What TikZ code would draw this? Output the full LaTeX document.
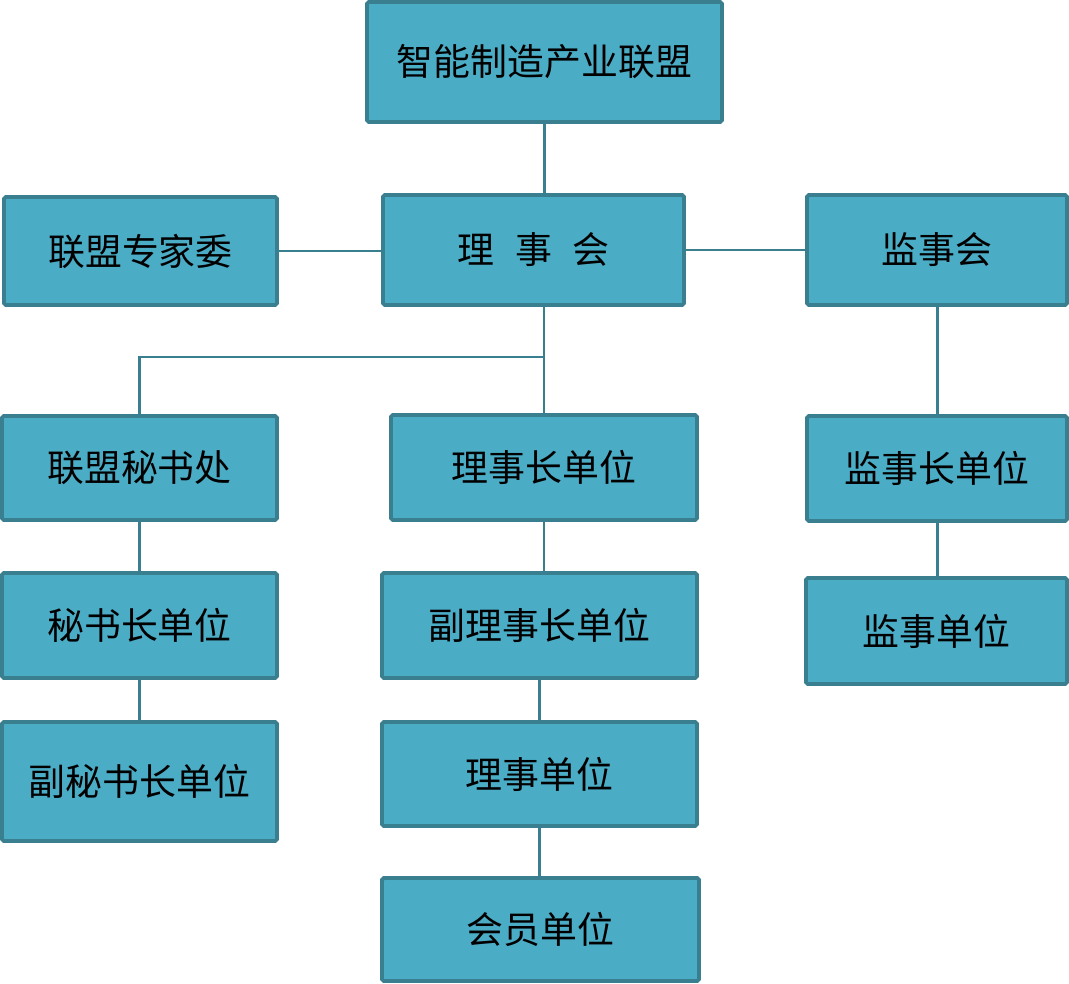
\documentclass[tikz,border=0pt]{standalone}
\usepackage{fontspec}
\newfontfamily\cjk{Noto Sans CJK SC}
\usetikzlibrary{positioning,calc}
\definecolor{BoxFill}{HTML}{4BACC6}
\definecolor{BoxLine}{HTML}{3A7F90}
\tikzset{
  unit/.style={draw=BoxLine,fill=BoxFill,line width=2.2pt,rounded corners=1pt,
    inner sep=0pt,font=\cjk\fontsize{21}{25}\selectfont},
  link/.style={draw=BoxLine,line width=1.7pt}
}
\begin{document}
\begin{tikzpicture}[x=0.02cm,y=-0.02cm]
      \useasboundingbox (0,0) rectangle (1069,984);
      % boxes: name/x/y/width/height/text
      \foreach \nm/\x/\y/\w/\h/\txt in {
        lm/544.5/62/355/120/智能制造产业联盟,
        zjw/140.5/251/273/108/联盟专家委,
        lsh/533.5/250/301/110/理\hspace{0.55em}事\hspace{0.55em}会,
        jsh/937/250/260/110/监事会,
        msc/139.5/468/275/104/联盟秘书处,
        lszdw/544/467.5/306/105/理事长单位,
        jszdw/937/468.5/260/105/监事长单位,
        mszdw/139.5/625.5/275/105/秘书长单位,
        flszdw/539.5/625.5/315/105/副理事长单位,
        jsdw/936.5/631/261/106/监事单位,
        fmszdw/139.5/781.5/275/119/副秘书长单位,
        lsdw/539.5/774/315/104/理事单位,
        hydw/540.5/929.5/317/103/会员单位}{
        \node[unit,minimum width=\w*0.02cm,minimum height=\h*0.02cm] (\nm) at (\x,\y) {\txt};
      }
      % links
      \draw[link] (lm.south) -- (lm.south |- lsh.north);
      \draw[link] (zjw.east) -- (zjw.east -| lsh.west);
      \draw[link] (lsh.east) -- (jsh.west);
      \draw[link] (lszdw.north |- lsh.south) -- (lszdw.north);
      \coordinate (fork) at (544,357);
      \draw[link] (fork) -| (msc.north);
      \foreach \a/\b in {jsh/jszdw,jszdw/jsdw,msc/mszdw,mszdw/fmszdw,
        lszdw/flszdw,flszdw/lsdw,lsdw/hydw}{
        \draw[link] (\a.south) -- (\a.south |- \b.north);
      }
    \end{tikzpicture}
\end{document}
